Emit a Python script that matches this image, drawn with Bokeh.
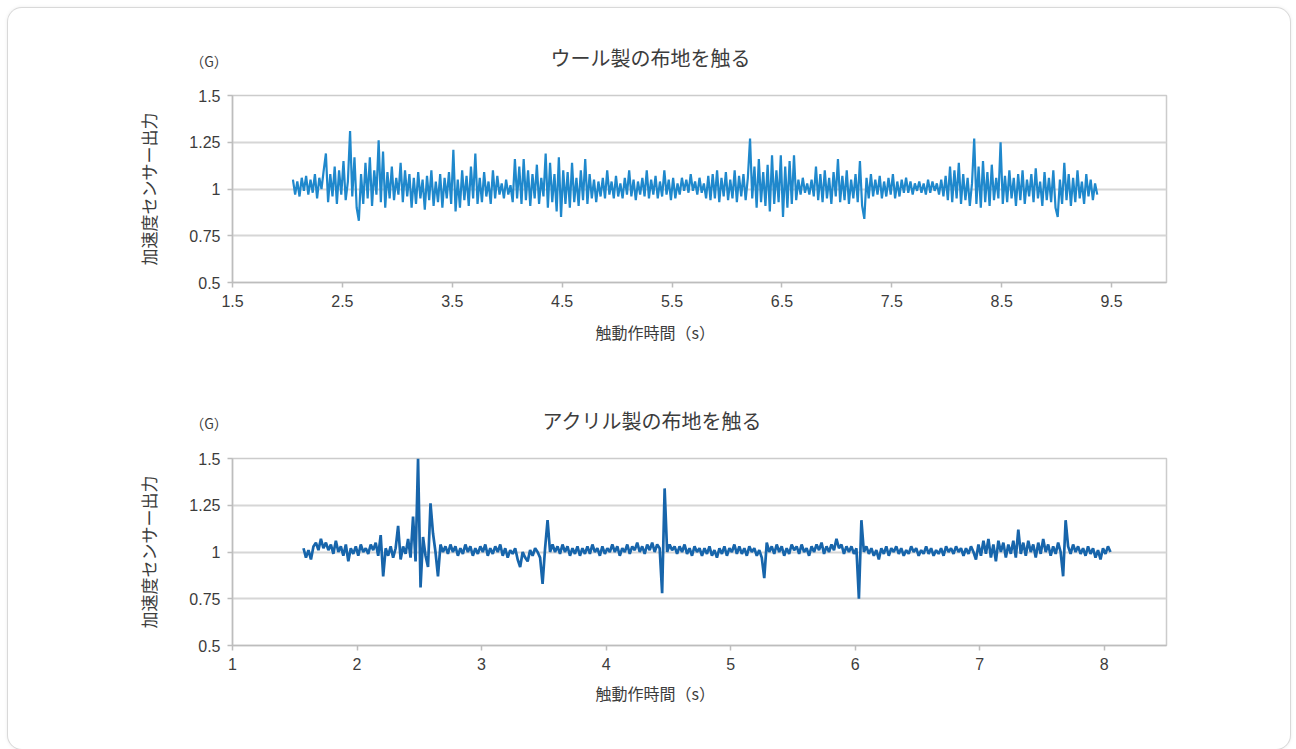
import math
from bokeh.plotting import figure
from bokeh.models import FixedTicker, Range1d, Title, Div
from bokeh.layouts import column
from bokeh.embed import file_html
from bokeh.resources import INLINE

# ---------------- data ----------------
wool_title = "ウール製の布地を触る"
acryl_title = "アクリル製の布地を触る"
x_label = "触動作時間（s）"
y_label = "加速度センサー出力"
unit_label = "（G）"

wool_t0 = 2.05
wool_dt = 0.02
wool_values = [
    1.05, 0.97, 1.04, 0.96, 1.06,  0.99, 1.07, 0.97, 1.05, 0.98,
    1.08, 0.95, 1.06, 1.00, 1.10,  1.19, 0.93, 1.08, 0.96, 1.12,
    0.92, 1.10, 0.97, 1.15, 0.94,  1.04, 1.31, 0.96, 1.17, 0.90,
    0.83, 1.08, 0.92, 1.14, 0.95,  1.17, 0.91, 1.10, 0.97, 1.26,
    0.93, 1.20, 0.90, 1.09, 0.95,  1.12, 0.94, 1.06, 0.97, 1.14,
    0.93, 1.10, 0.96, 1.08, 0.90,  1.06, 0.92, 1.09, 0.95, 1.05,
    0.89, 1.07, 0.94, 1.10, 0.91,  1.04, 0.93, 1.08, 0.90, 1.06,
    0.95, 1.09, 0.92, 1.21, 0.88,  1.05, 0.90, 1.10, 0.94, 1.07,
    0.91, 1.12, 0.95, 1.19, 0.92,  1.06, 0.93, 1.09, 0.96, 1.04,
    0.92, 1.10, 0.95, 1.07, 0.97,  1.03, 0.95, 1.05, 0.97, 1.02,
    0.93, 1.16, 0.95, 1.12, 0.92,  1.16, 0.94, 1.10, 0.91, 1.08,
    0.95, 1.13, 0.92, 1.06, 0.96,  1.19, 0.90, 1.14, 0.93, 1.08,
    0.88, 1.17, 0.85, 1.10, 0.92,  1.09, 0.90, 1.14, 0.93, 1.06,
    0.91, 1.10, 0.94, 1.16, 0.92,  1.08, 0.95, 1.05, 0.93, 1.04,
    0.96, 1.06, 0.95, 1.10, 0.97,  1.04, 0.95, 1.07, 0.96, 1.03,
    0.95, 1.06, 0.97, 1.10, 0.96,  1.05, 0.94, 1.04, 0.97, 1.06,
    0.96, 1.10, 0.95, 1.05, 0.97,  1.07, 0.95, 1.04, 0.96, 1.10,
    0.97, 1.05, 0.94, 1.06, 0.95,  1.03, 0.97, 1.06, 0.99, 1.05,
    0.98, 1.08, 0.99, 1.04, 0.97,  1.06, 0.98, 1.03, 0.95, 1.07,
    0.94, 1.08, 0.95, 1.10, 0.93,  1.06, 0.96, 1.09, 0.94, 1.05,
    0.95, 1.10, 0.93, 1.07, 0.96,  1.08, 0.94, 1.06, 1.27, 0.95,
    1.12, 0.90, 1.16, 0.93, 1.09,  0.91, 1.13, 0.88, 1.18, 0.92,
    1.10, 0.93, 1.18, 0.85, 1.12,  0.90, 1.15, 0.92, 1.18, 0.94,
    1.05, 0.97, 1.06, 0.98, 1.03,  0.97, 1.05, 0.96, 1.12, 0.94,
    1.08, 0.93, 1.10, 0.95, 1.06,  0.92, 1.09, 0.96, 1.16, 0.93,
    1.07, 0.94, 1.10, 0.92, 1.05,  0.95, 1.08, 0.93, 1.15, 0.91,
    0.84, 1.06, 0.95, 1.08, 0.96,  1.05, 0.97, 1.07, 0.95, 1.04,
    0.96, 1.06, 0.97, 1.08, 0.95,  1.04, 0.96, 1.05, 0.98, 1.06,
    0.98, 1.04, 0.97, 1.03, 0.99,  1.04, 0.98, 1.03, 0.97, 1.05,
    0.98, 1.04, 0.99, 1.03, 0.97,  1.05, 0.96, 1.07, 0.94, 1.12,
    0.93, 1.10, 0.95, 1.14, 0.92,  1.08, 0.94, 1.06, 0.91, 1.03,
    1.27, 0.92, 1.12, 0.90, 1.15,  0.93, 1.09, 0.91, 1.13, 0.94,
    1.06, 0.95, 1.25, 0.92, 1.07,  0.93, 1.10, 0.95, 1.06, 0.91,
    1.08, 0.94, 1.10, 0.92, 1.05,  0.96, 1.08, 0.93, 1.11, 0.95,
    1.04, 0.91, 1.09, 0.94, 1.06,  0.93, 1.10, 0.90, 0.85, 1.05,
    0.92, 1.14, 0.94, 1.08, 0.91,  1.06, 0.93, 1.10, 0.95, 1.04,
    0.92, 1.08, 0.96, 1.05, 0.94,  1.03, 0.97,
]

acryl_t0 = 1.57
acryl_dt = 0.02
acryl_values = [
    1.02, 0.97, 1.01, 0.96, 1.03,  1.05, 1.01, 1.07, 1.02, 1.05,
    1.01, 1.04, 0.99, 1.06, 1.00,  1.03, 0.98, 1.04, 0.95, 1.02,
    0.99, 1.03, 0.98, 1.04, 1.00,  1.02, 0.99, 1.04, 1.01, 1.05,
    0.98, 1.09, 0.87, 1.02, 0.98,  1.03, 0.97, 1.02, 1.14, 0.96,
    1.03, 0.99, 1.07, 0.97, 1.19,  0.95, 1.50, 0.81, 1.08, 0.98,
    0.92, 1.26, 1.10, 1.00, 0.87,  1.04, 1.00, 1.03, 0.99, 1.04,
    1.00, 1.03, 0.98, 1.02, 0.99,  1.04, 1.00, 1.03, 0.98, 1.02,
    0.99, 1.03, 1.00, 1.04, 0.98,  1.02, 0.99, 1.03, 1.00, 1.04,
    0.98, 1.02, 0.97, 1.01, 0.99,  1.02, 0.96, 0.92, 1.00, 0.97,
    0.95, 1.01, 0.98, 1.02, 1.00,  0.97, 0.83, 1.02, 1.17, 1.00,
    1.04, 1.00, 1.03, 0.99, 1.04,  1.00, 1.03, 0.98, 1.02, 0.99,
    1.03, 0.98, 1.02, 0.99, 1.03,  0.99, 1.04, 1.00, 1.02, 0.98,
    1.03, 0.99, 1.02, 1.00, 1.04,  1.00, 1.03, 0.98, 1.02, 1.00,
    1.04, 0.99, 1.03, 1.01, 1.05,  1.00, 1.03, 0.99, 1.04, 1.01,
    1.05, 1.00, 1.04, 1.02, 0.78,  1.34, 1.00, 1.04, 1.01, 1.03,
    0.99, 1.03, 1.00, 1.04, 0.99,  1.02, 0.98, 1.03, 1.00, 1.02,
    0.98, 1.02, 0.99, 1.03, 0.98,  1.01, 0.97, 1.02, 0.99, 1.03,
    0.98, 1.02, 1.00, 1.04, 0.99,  1.03, 0.99, 1.02, 0.98, 1.03,
    1.00, 1.02, 0.98, 1.01, 0.97,  0.86, 1.05, 1.00, 1.03, 0.99,
    1.04, 1.00, 1.03, 0.98, 1.02,  0.99, 1.04, 1.01, 1.03, 0.99,
    1.04, 1.00, 1.02, 0.98, 1.03,  1.00, 1.04, 1.01, 1.05, 0.99,
    1.03, 1.00, 1.04, 1.01, 1.07,  1.02, 1.04, 0.99, 1.03, 1.00,
    1.03, 0.99, 1.02, 0.75, 1.17,  1.00, 1.03, 0.99, 1.02, 0.98,
    1.01, 0.96, 1.02, 0.99, 1.03,  0.98, 1.02, 1.00, 1.03, 0.99,
    1.02, 0.98, 1.01, 0.99, 1.03,  1.00, 1.02, 0.98, 1.01, 0.99,
    1.03, 0.99, 1.02, 0.98, 1.01,  0.99, 1.02, 0.98, 1.03, 1.00,
    1.02, 0.99, 1.03, 1.00, 1.02,  0.98, 1.02, 0.99, 1.03, 1.00,
    0.96, 1.04, 0.98, 1.06, 0.99,  1.07, 0.97, 1.04, 0.95, 1.06,
    1.00, 1.05, 0.97, 1.04, 0.99,  1.06, 0.97, 1.12, 0.99, 1.05,
    0.98, 1.06, 1.00, 1.04, 0.97,  1.05, 0.99, 1.07, 1.00, 1.04,
    0.98, 1.03, 0.99, 1.05, 1.00,  0.87, 1.17, 1.03, 0.99, 1.04,
    1.00, 1.03, 0.99, 1.02, 0.98,  1.03, 0.99, 1.02, 0.97, 1.01,
    0.96, 1.02, 0.99, 1.03, 1.00,
]

wool_xticks = [1.5, 2.5, 3.5, 4.5, 5.5, 6.5, 7.5, 8.5, 9.5]
acryl_xticks = [1, 2, 3, 4, 5, 6, 7, 8]
y_ticks = [0.5, 0.75, 1.0, 1.25, 1.5]
y_tick_labels = ["0.5", "0.75", "1", "1.25", "1.5"]

wool_t = [round(wool_t0 + wool_dt * i, 3) for i in range(len(wool_values))]
acryl_t = [round(acryl_t0 + acryl_dt * i, 3) for i in range(len(acryl_values))]

JP = "Noto Sans CJK JP"
NUM = "Liberation Sans"
TXT = "#3c3c3c"
GRID = "#d6d6d6"
AX = "#bdbdbd"
FRAME_H = 187
FRAME_W = 936
FIG_W = 1282


def make_panel(height, b_top, b_left, xr, xticks, t, v, color, lw,
               title, title_off, xlab_off, xlab_standoff):
    p = figure(width=FIG_W, height=height, output_backend="svg",
               toolbar_location=None, x_range=Range1d(*xr),
               y_range=Range1d(0.5, 1.5),
               min_border_top=b_top, min_border_left=b_left,
               min_border_right=FIG_W - b_left - FRAME_W,
               min_border_bottom=height - b_top - FRAME_H)
    p.border_fill_color = None
    p.background_fill_color = "white"
    p.outline_line_color = "#cccccc"
    p.outline_line_width = 1.5

    p.line(t, v, line_color=color, line_width=lw, line_join="bevel")

    for ax in (p.xaxis, p.yaxis):
        ax.axis_line_color = AX
        ax.axis_line_width = 1.5
        ax.major_tick_line_color = AX
        ax.major_tick_line_width = 1.5
        ax.major_tick_out = 5
        ax.major_tick_in = 0
        ax.minor_tick_line_color = None
        ax.major_label_text_font = NUM
        ax.major_label_text_font_size = "16px"
        ax.major_label_text_color = TXT
    p.xaxis.ticker = FixedTicker(ticks=xticks)
    p.xaxis.major_label_overrides = {x: str(x) for x in xticks}
    p.xaxis.major_label_standoff = 7
    p.yaxis.ticker = FixedTicker(ticks=y_ticks)
    p.yaxis.major_label_overrides = dict(zip(y_ticks, y_tick_labels))
    p.yaxis.major_label_standoff = 7
    p.yaxis.axis_label = y_label
    p.yaxis.axis_label_text_font = JP
    p.yaxis.axis_label_text_font_size = "17px"
    p.yaxis.axis_label_text_font_style = "normal"
    p.yaxis.axis_label_text_color = TXT
    p.yaxis.axis_label_standoff = 25

    p.xgrid.visible = False
    p.ygrid.ticker = FixedTicker(ticks=y_ticks)
    p.ygrid.grid_line_color = GRID
    p.ygrid.grid_line_width = 1.8

    p.title = Title(text=title, align="left", offset=title_off, standoff=48,
                    text_font=JP, text_font_size="20px",
                    text_font_style="normal", text_color=TXT)
    p.add_layout(Title(text=x_label, align="left", offset=xlab_off,
                       standoff=xlab_standoff,
                       text_font=JP, text_font_size="16px",
                       text_font_style="normal", text_color=TXT), "below")
    return p


def unit_div(top_px):
    return Div(text=unit_label, width=60, height=22, styles={
        "position": "absolute", "left": "166px", "top": f"{top_px}px",
        "font-family": JP, "font-size": "14px", "color": TXT,
        "text-align": "center", "line-height": "20px",
    })


top = make_panel(355, 87, 224, (1.5, 10.0), wool_xticks, wool_t,
                 wool_values, "#1f88cc", 2.2, wool_title, 318, 363, 16)
bottom = make_panel(386, 95, 222, (1.0, 8.5), acryl_xticks, acryl_t,
                    acryl_values, "#1765ab", 2.7, acryl_title, 310, 363, 12)

layout = column(top, bottom, unit_div(38), unit_div(400), styles={
    "margin-left": "8px",
    "margin-top": "8px",
    "border-radius": "14px",
    "box-shadow": "0 0 0 1px #d9d9d9, 0 0 4px rgba(0,0,0,0.12)",
    "background": "white",
    "position": "relative",
})

open("out.html", "w").write(file_html(layout, INLINE))
